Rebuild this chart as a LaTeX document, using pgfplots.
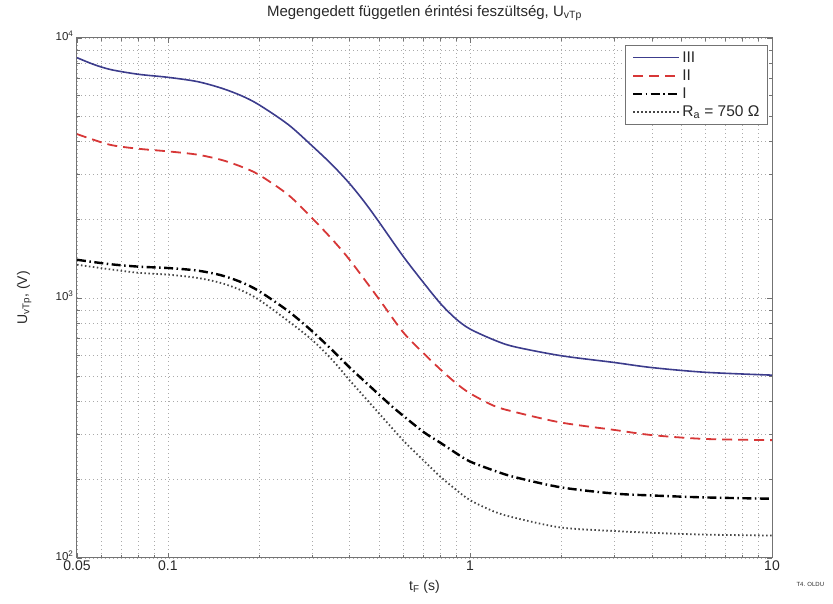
\documentclass[border=0pt]{standalone}
\usepackage{pgfplots}
\pgfplotsset{compat=1.18}
\usepackage{fontspec}
\setmainfont{Liberation Sans}
\definecolor{cIII}{RGB}{60,60,140}
\definecolor{cII}{RGB}{215,55,55}
\definecolor{cRa}{RGB}{70,70,70}
\definecolor{gridc}{RGB}{170,170,170}
\definecolor{axc}{RGB}{115,115,115}
\definecolor{txt}{RGB}{40,40,40}
\begin{document}
\begin{tikzpicture}
\begin{axis}[name=ax,
  xmode=log, ymode=log,
  scale only axis, width=695pt, height=520pt,
  xmin=0.05, xmax=10, ymin=100, ymax=10000,
  xtick={0.05,0.1,1,10}, xticklabels={0.05,0.1,1,10},
  minor xtick={0.06,0.07,0.08,0.09,0.2,0.3,0.4,0.5,0.6,0.7,0.8,0.9,2,3,4,5,6,7,8,9},
  ytick={100,1000,10000},
  yticklabels={10\textsuperscript{2},10\textsuperscript{3},10\textsuperscript{4}},
  minor ytick={200,300,400,500,600,700,800,900,2000,3000,4000,5000,6000,7000,8000,9000},
  grid=both,
  major grid style={gridc, dash pattern=on 1pt off 3pt, line width=0.6pt},
  minor grid style={gridc, dash pattern=on 1pt off 3pt, line width=0.6pt},
  axis line style={axc, line width=1pt},
  tick style={axc, line width=0.6pt},
  major tick length=5pt, minor tick length=3pt,
  /pgf/number format/assume math mode=true,
  xticklabel style={font=\fontsize{14}{16}\selectfont, text=txt, yshift=1pt},
  yticklabel style={font=\fontsize{11.5}{13}\selectfont, text=txt, yshift=2pt},
  title={Megengedett független érintési feszültség, U\textsubscript{vTp}},
  title style={font=\fontsize{15}{17}\selectfont, text=txt, inner sep=0pt,
    at={(axis description cs:0.5,1.037)}, anchor=center},
  xlabel={t\textsubscript{F} (s)},
  ylabel={U\textsubscript{vTp}, (V)},
  label style={font=\fontsize{14}{16}\selectfont, text=txt, inner sep=0pt},
  xlabel style={at={(axis description cs:0.5,-0.056)}, anchor=center},
  ylabel style={at={(axis description cs:-0.076,0.5)}, anchor=center},
  legend style={at={(0.9942,0.9865)}, anchor=north east, draw=axc, line width=1pt,
    font=\fontsize{15.5}{17}\selectfont, text=txt, row sep=2pt,
    inner xsep=6pt, inner ysep=4pt},
  legend cell align=left,
  legend image code/.code={\draw[#1] (0pt,0pt) -- (46pt,0pt);},
]
\addplot[cIII, line width=1.6pt, smooth] coordinates {
(0.05,8400) (0.057,7900) (0.065,7550) (0.08,7250) (0.1,7060) (0.125,6800)
(0.15,6420) (0.175,6000) (0.2,5540) (0.25,4650) (0.3,3850) (0.35,3250)
(0.4,2750) (0.45,2320) (0.5,1960) (0.6,1450) (0.7,1150) (0.8,950) (0.9,830)
(1,760) (1.2,690) (1.4,650) (2,600) (3,565) (4,540) (6,518) (10,505)};
\addlegendentry{III}
\addplot[cII, line width=1.8pt, dash pattern=on 10pt off 6pt, smooth] coordinates {
(0.05,4270) (0.064,3890) (0.08,3750) (0.1,3665) (0.125,3560) (0.15,3400)
(0.175,3200) (0.2,2980) (0.25,2495) (0.3,2030) (0.35,1680) (0.4,1400)
(0.5,990) (0.6,740) (0.7,615) (0.8,530) (0.9,470) (1,430) (1.2,385)
(1.4,365) (2,332) (3,311) (4,297) (6,287) (10,284)};
\addlegendentry{II}
\addplot[black, line width=2.4pt, dash pattern=on 9pt off 3.5pt on 1.5pt off 3.5pt, smooth] coordinates {
(0.05,1403) (0.064,1350) (0.08,1320) (0.1,1304) (0.125,1275) (0.15,1223)
(0.175,1150) (0.2,1064) (0.25,891) (0.3,746) (0.35,630) (0.4,540) (0.5,425)
(0.57,371) (0.7,306) (0.8,277) (0.9,253) (1,235) (1.2,217) (1.4,205)
(2,187) (3,177) (4,174) (6,171) (10,169)};
\addlegendentry{I}
\addplot[cRa, line width=1.8pt, dash pattern=on 1.5pt off 2.5pt, smooth] coordinates {
(0.05,1343) (0.064,1290) (0.08,1250) (0.1,1230) (0.125,1195) (0.15,1142)
(0.175,1070) (0.2,985) (0.25,816) (0.3,690) (0.35,578) (0.4,482) (0.5,360)
(0.6,284) (0.7,238) (0.8,205) (0.9,183) (1,167) (1.2,151) (1.4,143)
(2,131) (3,127) (4,125) (6,123) (10,122)};
\addlegendentry{R\textsubscript{a} = 750 Ω}
\end{axis}
\node[font=\fontsize{6}{7}\selectfont, text=txt, anchor=west] at ([xshift=21pt,yshift=-26pt]ax.south east) {T4. OLDU};
\path ([xshift=-77pt,yshift=-45pt]ax.south west) rectangle ([xshift=61pt,yshift=38pt]ax.north east);
\end{tikzpicture}
\end{document}
